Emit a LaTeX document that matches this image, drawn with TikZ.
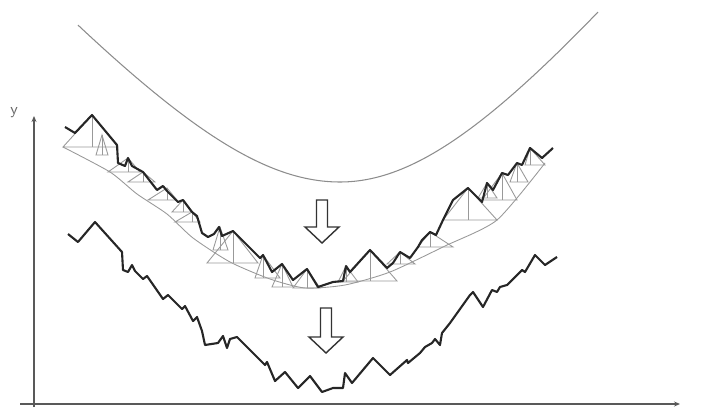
\documentclass[tikz,border=0pt]{standalone}
\usetikzlibrary{arrows.meta}

\begin{document}
\begin{tikzpicture}[x=0.02cm, y=-0.02cm,
    axis/.style={draw=black!65, line width=0.7pt, -{Stealth[length=1.2mm, width=1mm]}},
    smoothline/.style={draw=black!45, line width=0.6pt},
    rough/.style={draw=black!85, line width=1.2pt, line join=round},
    tri/.style={draw=black!40, line width=0.5pt},
    hollow/.style={draw=black!80, line width=0.8pt, fill=white, line join=miter}
  ]
    \useasboundingbox (0,0) rectangle (702,409);

    % axes
    \draw[axis] (20,404) -- (680,404);
    \draw[axis] (34,407) -- (34,116);
    \node[text=black!60, font=\sffamily\small] (ylab) at (14,113) {y};

    % smooth original curve
    \draw[smoothline] plot[domain=78:340, samples=60]
        (\x, {182-113.8*(sqrt(3.24+((\x-340)/100)^2)-1.8)});
    \draw[smoothline] plot[domain=340:598, samples=60]
        (\x, {182-126.3*(sqrt(3.24+((\x-340)/100)^2)-1.8)});

    % construction: base curve and triangles
    \draw[tri] plot[smooth, tension=0.4] coordinates {(63,147) (110,172) (137,194)
        (167,214) (193,238) (230,262) (270,279) (305,288) (345,285) (390,272)
        (445,246) (497,220) (545,163)};
    \foreach \ax/\ay/\bl/\br/\by in {
        92/115/63/118/147, 102/135/96/108/155, 128/158/108/140/172,
        143/172/128/155/182, 167/188/148/177/200, 192/212/175/200/222,
        183/200/172/192/212, 220/227/213/228/250, 233/231/207/258/263,
        263/255/255/280/278, 282/264/272/293/287, 307/269/293/320/288,
        346/266/338/358/282, 370/250/343/397/281, 400/252/387/415/264,
        430/232/418/453/247, 468/188/443/497/220, 487/183/478/497/198,
        502/173/482/517/200, 517/163/510/528/182, 530/148/525/545/165}
    {
      \draw[tri] (\bl,\by) -- (\ax,\ay) -- (\br,\by) -- cycle;
      \draw[tri] (\ax,\ay) -- (\ax,\by);
    }

    % middle rough curve
    \draw[rough] plot coordinates {(65,127) (75,133) (92,115) (117,145) (118,163)
        (125,166) (128,158) (132,166) (143,172) (157,190) (163,186) (167,191)
        (178,202) (183,200) (192,212) (197,216) (202,233) (208,237) (214,234)
        (219,227) (222,236) (233,231) (260,258) (263,255) (272,272) (282,264)
        (293,280) (307,269) (318,287) (333,282) (343,281) (346,266) (350,272)
        (370,250) (387,268) (393,263) (400,252) (410,258) (418,247) (422,240)
        (430,232) (436,235) (443,220) (453,200) (468,188) (482,202) (487,183)
        (493,190) (502,173) (508,175) (517,163) (522,165) (530,148) (542,158)
        (553,148)};

    % bottom rough curve
    \draw[rough] plot coordinates {(68,234) (78,242) (95,222) (122,252) (123,270)
        (128,272) (132,265) (135,271) (143,279) (147,276) (163,299) (168,295)
        (182,309) (185,306) (193,321) (197,317) (202,331) (205,345) (218,343)
        (223,336) (227,348) (230,339) (237,337) (265,365) (267,362) (275,381)
        (285,372) (298,388) (310,376) (322,392) (333,388) (343,388) (345,373)
        (352,383) (373,358) (390,375) (407,360) (408,363) (420,353) (425,347)
        (432,343) (435,339) (440,345) (442,333) (450,323) (470,295) (473,292)
        (483,307) (492,290) (497,292) (500,287) (507,285) (512,280) (522,270)
        (525,272) (535,255) (545,265) (557,257)};

    % hollow arrows
    \foreach \cx/\top/\neck/\tip in {322/200/227/243, 326/308/337/353}
    {
      \draw[hollow] (\cx-5.5,\top) -- (\cx+5.5,\top) -- (\cx+5.5,\neck)
        -- (\cx+17,\neck) -- (\cx,\tip) -- (\cx-17,\neck) -- (\cx-5.5,\neck) -- cycle;
    }
  \end{tikzpicture}
\end{document}
